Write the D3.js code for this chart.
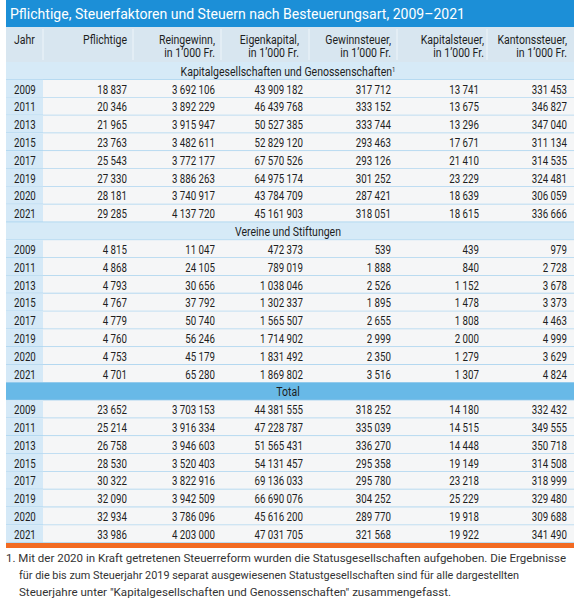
<!DOCTYPE html>
<html><head><meta charset="utf-8">
<script src="https://cdn.jsdelivr.net/npm/d3@7"></script>
<style>
html,body{margin:0;padding:0;background:#fff;}
svg{display:block;}
</style></head>
<body>
<svg id="chart" width="575" height="601"></svg>
<script>
// ---------- DATA ----------
const title = "Pflichtige, Steuerfaktoren und Steuern nach Besteuerungsart, 2009–2021";
const years = ["2009","2011","2013","2015","2017","2019","2020","2021"];
const yearHeader = "Jahr";
const columnKeys = ["Pflichtige","Reingewinn","Eigenkapital","Gewinnsteuer","Kapitalsteuer","Kantonssteuer"];
const headerLine1 = ["Pflichtige","Reingewinn,","Eigenkapital,","Gewinnsteuer,","Kapitalsteuer,","Kantonssteuer,"];
const headerLine2 = ["","in 1’000 Fr.","in 1’000 Fr.","in 1’000 Fr.","in 1’000 Fr.","in 1’000 Fr."];
const sectionLabels = ["Kapitalgesellschaften und Genossenschaften", "Vereine und Stiftungen", "Total"];

// Kapitalgesellschaften und Genossenschaften
const kgPflichtige   = [18837, 20346, 21965, 23763, 25543, 27330, 28181, 29285];
const kgReingewinn   = [3692106, 3892229, 3915947, 3482611, 3772177, 3886263, 3740917, 4137720];
const kgEigenkapital = [43909182, 46439768, 50527385, 52829120, 67570526, 64975174, 43784709, 45161903];
const kgGewinnsteuer = [317712, 333152, 333744, 293463, 293126, 301252, 287421, 318051];
const kgKapitalsteuer= [13741, 13675, 13296, 17671, 21410, 23229, 18639, 18615];
const kgKantonssteuer= [331453, 346827, 347040, 311134, 314535, 324481, 306059, 336666];

// Vereine und Stiftungen
const vsPflichtige   = [4815, 4868, 4793, 4767, 4779, 4760, 4753, 4701];
const vsReingewinn   = [11047, 24105, 30656, 37792, 50740, 56246, 45179, 65280];
const vsEigenkapital = [472373, 789019, 1038046, 1302337, 1565507, 1714902, 1831492, 1869802];
const vsGewinnsteuer = [539, 1888, 2526, 1895, 2655, 2999, 2350, 3516];
const vsKapitalsteuer= [439, 840, 1152, 1478, 1808, 2000, 1279, 1307];
const vsKantonssteuer= [979, 2728, 3678, 3373, 4463, 4999, 3629, 4824];

// Total
const totPflichtige   = [23652, 25214, 26758, 28530, 30322, 32090, 32934, 33986];
const totReingewinn   = [3703153, 3916334, 3946603, 3520403, 3822916, 3942509, 3786096, 4203000];
const totEigenkapital = [44381555, 47228787, 51565431, 54131457, 69136033, 66690076, 45616200, 47031705];
const totGewinnsteuer = [318252, 335039, 336270, 295358, 295780, 304252, 289770, 321568];
const totKapitalsteuer= [14180, 14515, 14448, 19149, 23218, 25229, 19918, 19922];
const totKantonssteuer= [332432, 349555, 350718, 314508, 318999, 329480, 309688, 341490];

const footnoteLines = [
  "1. Mit der 2020 in Kraft getretenen Steuerreform wurden die Statusgesellschaften aufgehoben. Die Ergebnisse",
  "für die bis zum Steuerjahr 2019 separat ausgewiesenen Statustgesellschaften sind für alle dargestellten",
  "Steuerjahre unter \"Kapitalgesellschaften und Genossenschaften\" zusammengefasst."
];

// ---------- BUILD ----------
const sectionData = [
  [kgPflichtige, kgReingewinn, kgEigenkapital, kgGewinnsteuer, kgKapitalsteuer, kgKantonssteuer],
  [vsPflichtige, vsReingewinn, vsEigenkapital, vsGewinnsteuer, vsKapitalsteuer, vsKantonssteuer],
  [totPflichtige, totReingewinn, totEigenkapital, totGewinnsteuer, totKapitalsteuer, totKantonssteuer]
];
const rows = [];
sectionLabels.forEach((lab, si) => {
  rows.push({type: "section", label: lab, si, id: "s" + si});
  years.forEach((yr, yi) => {
    rows.push({type: "data", year: yr, si, id: "d" + si + "_" + yi,
      values: sectionData[si].map(arr => arr[yi])});
  });
});

const svg = d3.select("#chart");
const left = 6, right = 574;
const FONT_NARROW = "Roboto,'Liberation Sans',sans-serif";
const FONT_REG = "Roboto,'Liberation Sans',sans-serif";
const NARROW_SIZE = "13.5px";
const SQUEEZE_NUM = 0.72;
const SQUEEZE_TXT = 0.78;
const TXT = "#1e1e1e";
const fmt = d3.formatLocale({decimal: ".", thousands: " ", grouping: [3], currency: ["", ""]}).format(",d");

// horizontally condense a text by scaling its x axis
function condense(sel, f) {
  sel.each(function () {
    const t = d3.select(this);
    const x0 = +t.attr("x") || 0;
    t.attr("x", x0 / f).attr("transform", `scale(${f},1)`);
  });
  return sel;
}

const y = d3.scaleBand().domain(rows.map(r => r.id)).range([62, 543]).padding(0);
const x = d3.scalePoint().domain(columnKeys).range([127, 567]);
const headerShift = {Eigenkapital: -4, Kapitalsteuer: 5};
const yearX = 14, yearColRight = 43;

// Title bar
svg.append("rect").attr("x", left).attr("y", 0).attr("width", right - left).attr("height", 27).attr("fill", "#1c8fd7");
svg.append("text").attr("x", 10).attr("y", 19).attr("fill", "#fff")
  .style("font-family", FONT_REG).style("font-size", "15px")
  .attr("textLength", 455).attr("lengthAdjust", "spacingAndGlyphs").text(title);

// Header
svg.append("rect").attr("x", left).attr("y", 27).attr("width", right - left).attr("height", 35).attr("fill", "#d8e6f0");
const sepX = [yearColRight].concat(columnKeys.slice(0, -1).map(k => x(k) + 6 + (k === "Kapitalsteuer" ? 2 : 0)));
svg.selectAll("line.hsep").data(sepX).join("line").attr("class", "hsep")
  .attr("x1", d => d).attr("x2", d => d).attr("y1", 29).attr("y2", 60)
  .attr("stroke", "#eef5fa").attr("stroke-width", 1);
condense(svg.append("text").attr("x", yearX).attr("y", 44.5).attr("fill", TXT)
  .style("font-family", FONT_NARROW).style("font-size", NARROW_SIZE).text(yearHeader), SQUEEZE_TXT);
const hdr = svg.selectAll("g.hdr").data(columnKeys).join("g").attr("class", "hdr");
const hx = d => x(d) + (headerShift[d] || 0);
condense(hdr.append("text").attr("x", hx).attr("y", 44.5).attr("text-anchor", "end").attr("fill", TXT)
  .style("font-family", FONT_NARROW).style("font-size", NARROW_SIZE).text((d, i) => headerLine1[i]), SQUEEZE_TXT);
condense(hdr.filter((d, i) => headerLine2[i] !== "").append("text").attr("x", hx).attr("y", 57.5)
  .attr("text-anchor", "end").attr("fill", TXT)
  .style("font-family", FONT_NARROW).style("font-size", NARROW_SIZE).text(d => headerLine2[columnKeys.indexOf(d)]), SQUEEZE_TXT);

// Row backgrounds
const rowG = svg.selectAll("g.row").data(rows).join("g").attr("class", "row")
  .attr("transform", d => `translate(0,${y(d.id)})`);
const bh = y.bandwidth();

rowG.filter(d => d.type === "section").append("rect")
  .attr("x", left).attr("y", 0).attr("width", right - left).attr("height", bh)
  .attr("fill", d => d.si === 2 ? "#68b9e7" : "#d6eaf7");
rowG.filter(d => d.type === "data").append("rect")
  .attr("x", left).attr("y", 0).attr("width", right - left).attr("height", bh).attr("fill", "#f5f6f7");
rowG.filter(d => d.type === "data").append("rect")
  .attr("x", left).attr("y", 0).attr("width", yearColRight - left).attr("height", bh).attr("fill", "#d5e9f7");
// separators
rowG.append("line").attr("x1", left).attr("x2", right).attr("y1", bh).attr("y2", bh)
  .attr("stroke", "#a9d3ef").attr("stroke-width", 1.5);

// Section labels
const secT = rowG.filter(d => d.type === "section").append("text")
  .attr("x", (left + right) / 2 - 2).attr("y", bh / 2).attr("dy", "0.36em").attr("text-anchor", "middle")
  .attr("fill", TXT).style("font-family", FONT_NARROW).style("font-size", NARROW_SIZE);
secT.text(d => d.label);
secT.filter(d => d.si === 0).append("tspan").attr("dy", "-0.45em").style("font-size", "7.5px").text("1");
condense(secT, SQUEEZE_TXT);

// Data
const dataRows = rowG.filter(d => d.type === "data");
condense(dataRows.append("text").attr("x", yearX).attr("y", bh / 2).attr("dy", "0.36em").attr("fill", TXT)
  .style("font-family", FONT_NARROW).style("font-size", NARROW_SIZE).text(d => d.year), SQUEEZE_NUM);
condense(dataRows.selectAll("text.val").data(d => d.values.map((v, i) => ({v, k: columnKeys[i]}))).join("text")
  .attr("class", "val").attr("x", d => x(d.k)).attr("y", bh / 2).attr("dy", "0.36em")
  .attr("text-anchor", "end").attr("fill", TXT)
  .style("font-family", FONT_NARROW).style("font-size", NARROW_SIZE).text(d => fmt(d.v)), SQUEEZE_NUM);

// Orange bottom line
svg.append("rect").attr("x", left).attr("y", 543).attr("width", right - left).attr("height", 5).attr("fill", "#f26b23");

// Footnote
const fnLen = [560, 500, 432];
svg.selectAll("text.fn").data(footnoteLines).join("text").attr("class", "fn")
  .attr("x", (d, i) => i === 0 ? 6 : 19).attr("y", (d, i) => 562 + i * 17)
  .attr("fill", "#333").style("font-family", FONT_REG).style("font-size", "11.5px")
  .attr("textLength", (d, i) => fnLen[i])
  .attr("lengthAdjust", "spacingAndGlyphs").text(d => d);
</script>
</body></html>
